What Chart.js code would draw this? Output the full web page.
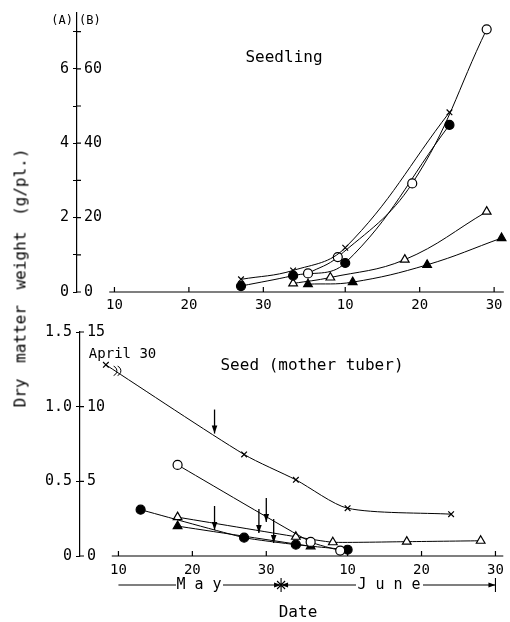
<!DOCTYPE html>
<html>
<head>
<meta charset="utf-8">
<script src="https://cdn.jsdelivr.net/npm/chart.js@4.4.0/dist/chart.umd.min.js"></script>
<style>
  body { margin: 0; background: #fff; }
  #wrap { position: relative; width: 510px; height: 622px; font-family: 'DejaVu Sans Mono', monospace; color: #000; }
  canvas { position: absolute; left: 0; }
  #top { top: 0; width: 510px; height: 315px; }
  #bottom { top: 315px; width: 510px; height: 307px; }
  #ytitle { position: absolute; left: 20px; top: 278px; transform: translate(-50%, -50%) rotate(-90deg);
            white-space: nowrap; font-size: 16px; word-spacing: 6px; }
</style>
</head>
<body>
<div id="wrap">
  <canvas id="top" width="510" height="315"></canvas>
  <canvas id="bottom" width="510" height="307"></canvas>
  <div id="ytitle">Dry matter weight (g/pl.)</div>
</div>
<script>
const FONT = "'DejaVu Sans Mono', monospace";

// days counted from May 1 (June 1 = day 32)
const tickDays = [10, 20, 30, 41, 51, 61];
const tickLabels = ['10', '20', '30', '10', '20', '30'];

// Seedling, scale (B)
const seedlingCrossDays = [27, 34, 41, 55];
const seedlingCross = [3.4, 5.8, 11.9, 48.3];
const seedlingOpenCircleDays = [36, 40, 50, 60];
const seedlingOpenCircle = [5.0, 9.4, 29.2, 70.6];
const seedlingDotDays = [27, 34, 41, 55];
const seedlingDot = [1.6, 4.4, 7.8, 44.9];
const seedlingOpenTriDays = [34, 39, 49, 60];
const seedlingOpenTri = [2.3, 3.9, 8.7, 21.6];
const seedlingTriDays = [36, 42, 52, 62];
const seedlingTri = [2.1, 2.65, 7.3, 14.5];

// Seed (mother tuber), scale (B); first cross is April 30, sits left of the axis break
const seedCrossDays = [8.3, 27, 34, 41, 55];
const seedCross = [12.8, 6.8, 5.1, 3.2, 2.8];
const seedOpenCircleDays = [18, 36, 40];
const seedOpenCircle = [6.1, 0.94, 0.36];
const seedDotDays = [13, 27, 34, 41];
const seedDot = [3.1, 1.23, 0.76, 0.42];
const seedOpenTriDays = [18, 34, 39, 49, 59];
const seedOpenTri = [2.6, 1.29, 0.92, 0.96, 1.02];
const seedTriDays = [18, 36];
const seedTri = [2.0, 0.65];
const arrowDays = [23, 23, 29, 30, 31];
const arrowValues = [8.2, 1.74, 1.54, 2.28, 0.87];

const topTicks = [0, 10, 20, 30, 40, 50, 60, 70];
const bottomTicks = [0, 5, 10, 15];

function series(days, vals, style, filled, radius, tension) {
  return {
    data: days.map((d, i) => ({x: d, y: vals[i]})),
    borderColor: '#000', borderWidth: 1,
    pointStyle: style, pointRadius: radius,
    pointBackgroundColor: filled ? '#000' : '#fff',
    pointBorderColor: '#000', pointBorderWidth: 1.2,
    clip: false,
    tension: tension
  };
}

function xScale(min, max, h, pad) {
  return {
    type: 'linear', min: min, max: max,
    afterBuildTicks: s => { s.ticks = tickDays.map(v => ({value: v})); },
    ticks: { callback: (v, i) => tickLabels[i], color: '#000', font: {family: FONT, size: 14},
             padding: pad, maxRotation: 0, autoSkip: false },
    grid: { display: false, drawTicks: false },
    border: { display: false },
    afterFit: s => { s.height = h; }
  };
}

function yScale(max, ticks, fmt, w) {
  return {
    min: 0, max: max,
    afterBuildTicks: s => { s.ticks = ticks.map(v => ({value: v})); },
    ticks: { callback: v => fmt(v), color: '#000', font: {family: FONT, size: 15}, padding: 4 },
    grid: { drawOnChartArea: false, drawTicks: true, tickLength: 4, color: '#000', lineWidth: 1 },
    border: { display: true, color: '#000', width: 1.2 },
    afterFit: s => { s.width = w; }
  };
}

function arrow(ctx, x1, y1, x2, y2, head) {
  const a = Math.atan2(y2 - y1, x2 - x1);
  ctx.beginPath(); ctx.moveTo(x1, y1); ctx.lineTo(x2, y2); ctx.stroke();
  ctx.beginPath();
  ctx.moveTo(x2, y2);
  ctx.lineTo(x2 - head * Math.cos(a) + head * 0.35 * Math.sin(a), y2 - head * Math.sin(a) - head * 0.35 * Math.cos(a));
  ctx.lineTo(x2 - head * Math.cos(a) - head * 0.35 * Math.sin(a), y2 - head * Math.sin(a) + head * 0.35 * Math.cos(a));
  ctx.closePath(); ctx.fill();
}

function makeDecor(o) {
  return {
    id: 'decor',
    afterDraw(chart) {
      const ctx = chart.ctx, a = chart.chartArea, x = chart.scales.x, y = chart.scales.y;
      ctx.save();
      ctx.strokeStyle = '#000'; ctx.fillStyle = '#000'; ctx.lineWidth = 1.2;
      // x axis line starts a little left of the first tick, not at the y axis
      ctx.beginPath();
      ctx.moveTo(x.getPixelForValue(o.axisStart), a.bottom); ctx.lineTo(a.right, a.bottom);
      tickDays.forEach(d => {
        const px = x.getPixelForValue(d);
        ctx.moveTo(px, a.bottom); ctx.lineTo(px, a.bottom - 5);
      });
      y.ticks.forEach(t => {
        const py = y.getPixelForValue(t.value);
        ctx.moveTo(a.left, py); ctx.lineTo(a.left + 4, py);
      });
      ctx.stroke();
      // scale (B) labels inside the axis
      ctx.font = '15px ' + FONT; ctx.textBaseline = 'middle'; ctx.textAlign = 'left';
      y.ticks.forEach(t => {
        const s = o.bLabel(t.value);
        if (s !== '') ctx.fillText(s, a.left + 7, y.getPixelForValue(t.value));
      });
      ctx.font = '16px ' + FONT; ctx.textAlign = 'center';
      ctx.fillText(o.title, o.titlePos[0], o.titlePos[1]);
      if (o.extra) o.extra(chart, ctx, x, y, a);
      ctx.restore();
    }
  };
}

new Chart(document.getElementById('top'), {
  type: 'line',
  data: { datasets: [
    series(seedlingCrossDays, seedlingCross, 'crossRot', false, 4, 0.4),
    series(seedlingOpenCircleDays, seedlingOpenCircle, 'circle', false, 4.5, 0.4),
    series(seedlingDotDays, seedlingDot, 'circle', true, 4.5, 0.4),
    series(seedlingOpenTriDays, seedlingOpenTri, 'triangle', false, 5, 0.4),
    series(seedlingTriDays, seedlingTri, 'triangle', true, 5, 0.4)
  ]},
  options: {
    responsive: false, animation: false, devicePixelRatio: 1,
    layout: { padding: { top: 10, left: 0, right: 0, bottom: 0 } },
    plugins: { legend: { display: false }, tooltip: { enabled: false } },
    scales: {
      x: xScale(4.97, 62.3, 23, 5),
      y: yScale(75, topTicks, v => (v % 20 === 0 ? String(v / 10) : ''), 77)
    }
  },
  plugins: [makeDecor({
    axisStart: 9.3,
    bLabel: v => (v % 20 === 0 ? String(v) : ''),
    title: 'Seedling', titlePos: [284, 58],
    extra: (chart, ctx) => {
      ctx.font = '12px ' + FONT; ctx.textAlign = 'right';
      ctx.fillText('(A)', 73, 21);
      ctx.textAlign = 'left';
      ctx.fillText('(B)', 79, 21);
    }
  })]
});

new Chart(document.getElementById('bottom'), {
  type: 'line',
  data: { datasets: [
    series(seedCrossDays, seedCross, 'crossRot', false, 4, 0.25),
    series(seedOpenCircleDays, seedOpenCircle, 'circle', false, 4.5, 0.15),
    series(seedDotDays, seedDot, 'circle', true, 4.5, 0.15),
    series(seedOpenTriDays, seedOpenTri, 'triangle', false, 5, 0.15),
    series(seedTriDays, seedTri, 'triangle', true, 5, 0.15)
  ]},
  options: {
    responsive: false, animation: false, devicePixelRatio: 1,
    layout: { padding: { top: 17, left: 0, right: 0, bottom: 0 } },
    plugins: { legend: { display: false }, tooltip: { enabled: false } },
    scales: {
      x: xScale(4.8, 62.06, 66, 6),
      y: yScale(15, bottomTicks, v => (v === 0 ? '0' : (v / 10).toFixed(1)), 80)
    }
  },
  plugins: [makeDecor({
    axisStart: 9.1,
    bLabel: v => String(v),
    title: 'Seed (mother tuber)', titlePos: [312, 51],
    extra: (chart, ctx, x, y, a) => {
      // April 30 label and axis break next to the first cross
      const px = x.getPixelForValue(seedCrossDays[0]), py = y.getPixelForValue(seedCross[0]);
      ctx.font = '14px ' + FONT; ctx.textAlign = 'left';
      ctx.fillText('April 30', px - 17, py - 10);
      ctx.lineWidth = 1;
      [0, 4].forEach(dx => {
        ctx.beginPath();
        ctx.arc(px + 6 + dx, py + 6, 5, -Math.PI / 2.6, Math.PI / 2.6);
        ctx.stroke();
      });
      // arrows
      ctx.lineWidth = 1.3;
      arrowDays.forEach((d, i) => {
        const ax = x.getPixelForValue(d), ay = y.getPixelForValue(arrowValues[i]);
        arrow(ctx, ax, ay - 24, ax, ay, 8);
      });
      // month bar
      const my = 270;
      const x10 = x.getPixelForValue(10), xJun = x.getPixelForValue(32), xEnd = x.getPixelForValue(61);
      ctx.lineWidth = 1.1;
      ctx.font = '15px ' + FONT; ctx.textAlign = 'center'; ctx.textBaseline = 'middle';
      ctx.fillText('M a y', 199, my);
      ctx.fillText('J u n e', 389, my);
      ctx.beginPath(); ctx.moveTo(x10, my); ctx.lineTo(176, my); ctx.stroke();
      arrow(ctx, 223, my, xJun, my, 7);
      arrow(ctx, 356, my, xJun, my, 7);
      arrow(ctx, 423, my, xEnd, my, 7);
      ctx.beginPath();
      ctx.moveTo(xJun, my - 7); ctx.lineTo(xJun, my + 7);
      ctx.moveTo(xJun - 4, my - 4); ctx.lineTo(xJun + 4, my + 4);
      ctx.moveTo(xJun - 4, my + 4); ctx.lineTo(xJun + 4, my - 4);
      ctx.moveTo(xEnd, my - 7); ctx.lineTo(xEnd, my + 7);
      ctx.stroke();
      ctx.font = '16px ' + FONT;
      ctx.fillText('Date', 298, 298);
    }
  })]
});
</script>
</body>
</html>
